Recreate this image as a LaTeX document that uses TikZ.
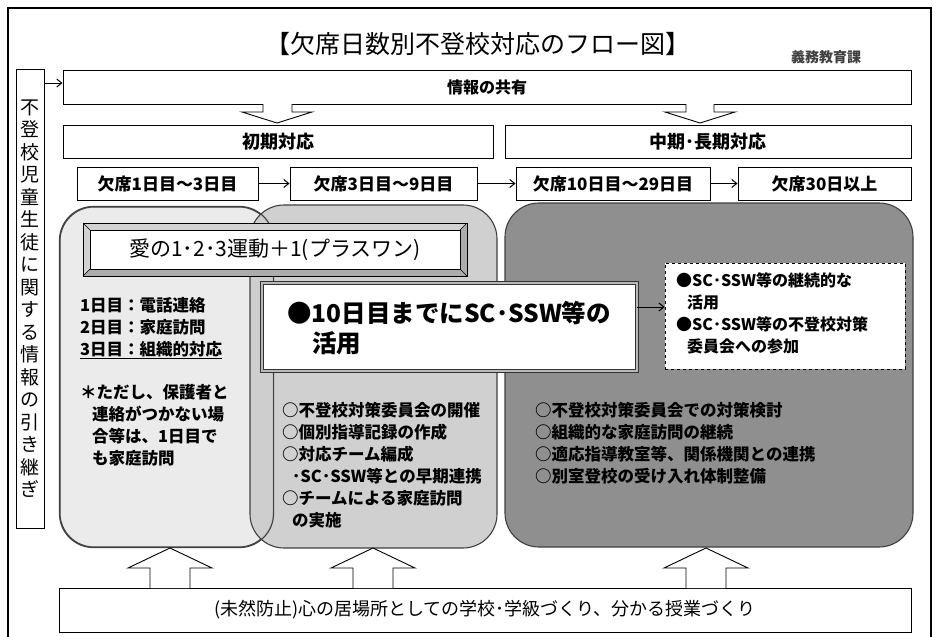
\documentclass[tikz,border=0pt]{standalone}
\usepackage{fontspec}
\setmainfont{Noto Sans CJK JP}
\usetikzlibrary{arrows.meta,calc}
\definecolor{lboxc}{HTML}{EBEBEB}
\definecolor{mboxc}{HTML}{CBCBCB}
\definecolor{rboxc}{HTML}{8F8F8F}
\definecolor{edgec}{HTML}{404040}
\newcommand{\fsz}[1]{\fontsize{#1}{#1}\selectfont}
\begin{document}
\begin{tikzpicture}[x=1pt,y=-1pt,
  box/.style={draw=black, line width=1pt, fill=white, inner sep=0pt},
  txt/.style={anchor=base west, inner sep=0pt, font=\bfseries\fsz{16.5}},
  arr/.style={-{Straight Barb[length=5pt,width=8pt]}, line width=1pt},
  hollow/.style={draw=black, line width=0.9pt, fill=white, line join=miter},
  rbox/.style={draw=edgec, line width=1.1pt, rounded corners=34pt, inner sep=0pt}
]
\useasboundingbox (0,0) rectangle (938,637);
\fill[white] (0,0) rectangle (938,637);
% outer frame
\draw[line width=2.5pt] (8,645) -- (8,8) -- (931,8) -- (931,645);

% title
\node[font=\fsz{25}, anchor=base, inner sep=0pt] (title) at (478,53) {【欠席日数別不登校対応のフロー図】};
\node[font=\bfseries\fsz{14}, anchor=base, inner sep=0pt, text=black!75] (dept) at (826,62) {義務教育課};

% side box
\node[box, minimum width=28pt, minimum height=459pt, align=center,
      font=\fontsize{19}{22.5}\selectfont] (side) at (30,298.5)
  {不\\登\\校\\児\\童\\生\\徒\\に\\関\\す\\る\\情\\報\\の\\引\\き\\継\\ぎ};

% info
\node[box, minimum width=848pt, minimum height=34pt, font=\bfseries\fsz{16}] (info) at (487,87) {情報の共有};
\coordinate (ya) at (0,83);
\draw[arr] (side.east |- ya) -- (info.west |- ya);

% down hollow arrows
\draw[hollow] (263,104) -- (263,112) -- (242,112) -- (277,123) -- (312,112) -- (292,112) -- (292,104);
\draw[hollow] (686,104) -- (686,112) -- (665,112) -- (700,123) -- (735,112) -- (714,112) -- (714,104);

% phase boxes
\node[box, minimum width=430pt, minimum height=33pt, font=\bfseries\fsz{18}] (early) at (278,141.5) {初期対応};
\node[box, minimum width=406pt, minimum height=33pt, font=\bfseries\fsz{18}] (mid) at (708,141.5) {中期･長期対応};

% day boxes
\node[box, minimum width=181pt, minimum height=33pt, font=\bfseries\fsz{17}] (d1) at (167.5,183.5) {欠席1日目～3日目};
\node[box, minimum width=187pt, minimum height=33pt, font=\bfseries\fsz{17}] (d2) at (383.5,183.5) {欠席3日目～9日目};
\node[box, minimum width=194pt, minimum height=33pt, font=\bfseries\fsz{17}] (d3) at (613,183.5) {欠席10日目～29日目};
\node[box, minimum width=173pt, minimum height=33pt, font=\bfseries\fsz{17}] (d4) at (824.5,183.5) {欠席30日以上};
\draw[arr] (d1) -- (d2);
\draw[arr] (d2) -- (d3);
\draw[arr] (d3) -- (d4);

% rounded areas
\node[rbox, fill=lboxc, minimum width=213pt, minimum height=340pt] (lbox) at (166.5,377) {};
\node[rbox, fill=mboxc, fill opacity=0.9, minimum width=247pt, minimum height=343pt] (mbox) at (373.5,376.5) {};
\draw[draw=edgec, line width=1.1pt, rounded corners=34pt] (lbox.south west) rectangle (lbox.north east);
\node[rbox, fill=rboxc, minimum width=408pt, minimum height=344pt] (rbox) at (709,375) {};

% bevel box
\node[draw=black, line width=0.8pt, fill=gray!55, minimum width=384pt, minimum height=53pt, inner sep=0pt] (aibox) at (275,249.5) {};
\fill[gray!35] (83,223) -- (467,223) -- (460,230) -- (90,230) -- cycle;
\fill[gray!35] (83,223) -- (90,230) -- (90,269) -- (83,276) -- cycle;
\fill[gray!65] (83,276) -- (467,276) -- (460,269) -- (90,269) -- cycle;
\fill[gray!65] (467,223) -- (467,276) -- (460,269) -- (460,230) -- cycle;
\draw[line width=0.5pt] (83,223) -- (90,230) (467,223) -- (460,230) (83,276) -- (90,269) (467,276) -- (460,269);
\draw[line width=0.8pt] (83,223) rectangle (467,276);
\draw[line width=0.8pt, fill=white] (90,230) rectangle (460,269);
\node[font=\fsz{21}, inner sep=0pt] (aitext) at (aibox.center) {愛の1･2･3運動＋1(プラスワン)};

% left texts
\node[txt] (l1) at (80,311) {1日目：電話連絡};
\node[txt] (l2) at (80,333) {2日目：家庭訪問};
\node[txt] (l3) at (80,355) {\underline{3日目：組織的対応}};
\node[txt] (l4) at (80,398) {＊ただし、保護者と};
\node[txt] (l5) at (92,420) {連絡がつかない場};
\node[txt] (l6) at (92,442) {合等は、1日目で};
\node[txt] (l7) at (92,464) {も家庭訪問};

% big white box
\node[draw=black!80, line width=0.6pt, double=gray!55, double distance=2.2pt, fill=white,
      minimum width=375pt, minimum height=88pt, inner sep=0pt] (big) at (449.5,327) {};
\node[txt, font=\bfseries\fsz{24.5}] (b1) at (287,322) {●10日目までにSC･SSW等の};
\node[txt, font=\bfseries\fsz{24.5}] (b2) at (312,352) {活用};

% dashed box
\node[draw=black, dashed, line width=0.7pt, fill=white, minimum width=240pt, minimum height=106pt, inner sep=0pt] (dash) at (785,316) {};
\node[txt, font=\bfseries\fsz{16}] (s1) at (676,286) {●SC･SSW等の継続的な};
\node[txt, font=\bfseries\fsz{16}] (s2) at (687,308) {活用};
\node[txt, font=\bfseries\fsz{16}] (s3) at (676,330) {●SC･SSW等の不登校対策};
\node[txt, font=\bfseries\fsz{16}] (s4) at (687,352) {委員会への参加};
\coordinate (aa) at ([yshift=9pt]dash.west);
\draw[arr] (big.east |- aa) -- (aa);

% middle list
\node[txt] (m1) at (282,416) {○不登校対策委員会の開催};
\node[txt] (m2) at (282,438) {○個別指導記録の作成};
\node[txt] (m3) at (282,460) {○対応チーム編成};
\node[txt] (m4) at (292,482) {･SC･SSW等との早期連携};
\node[txt] (m5) at (282,504) {○チームによる家庭訪問};
\node[txt] (m6) at (292,526) {の実施};

% right list
\node[txt] (r1) at (535,416) {○不登校対策委員会での対策検討};
\node[txt] (r2) at (535,438) {○組織的な家庭訪問の継続};
\node[txt] (r3) at (535,460) {○適応指導教室等、関係機関との連携};
\node[txt] (r4) at (535,482) {○別室登校の受け入れ体制整備};

% bottom box
\node[box, minimum width=852pt, minimum height=44pt, font=\fsz{18}] (base) at (485,610) {(未然防止)心の居場所としての学校･学級づくり、分かる授業づくり};

% up hollow arrows
\draw[hollow] (150,588) -- (150,568) -- (128,568) -- (170,548) -- (212,568) -- (190,568) -- (190,588);
\draw[hollow] (353,588) -- (353,568) -- (331,568) -- (373,548) -- (415,568) -- (393,568) -- (393,588);
\draw[hollow] (686,588) -- (686,568) -- (664,568) -- (706,548) -- (748,568) -- (726,568) -- (726,588);
\end{tikzpicture}
\end{document}
